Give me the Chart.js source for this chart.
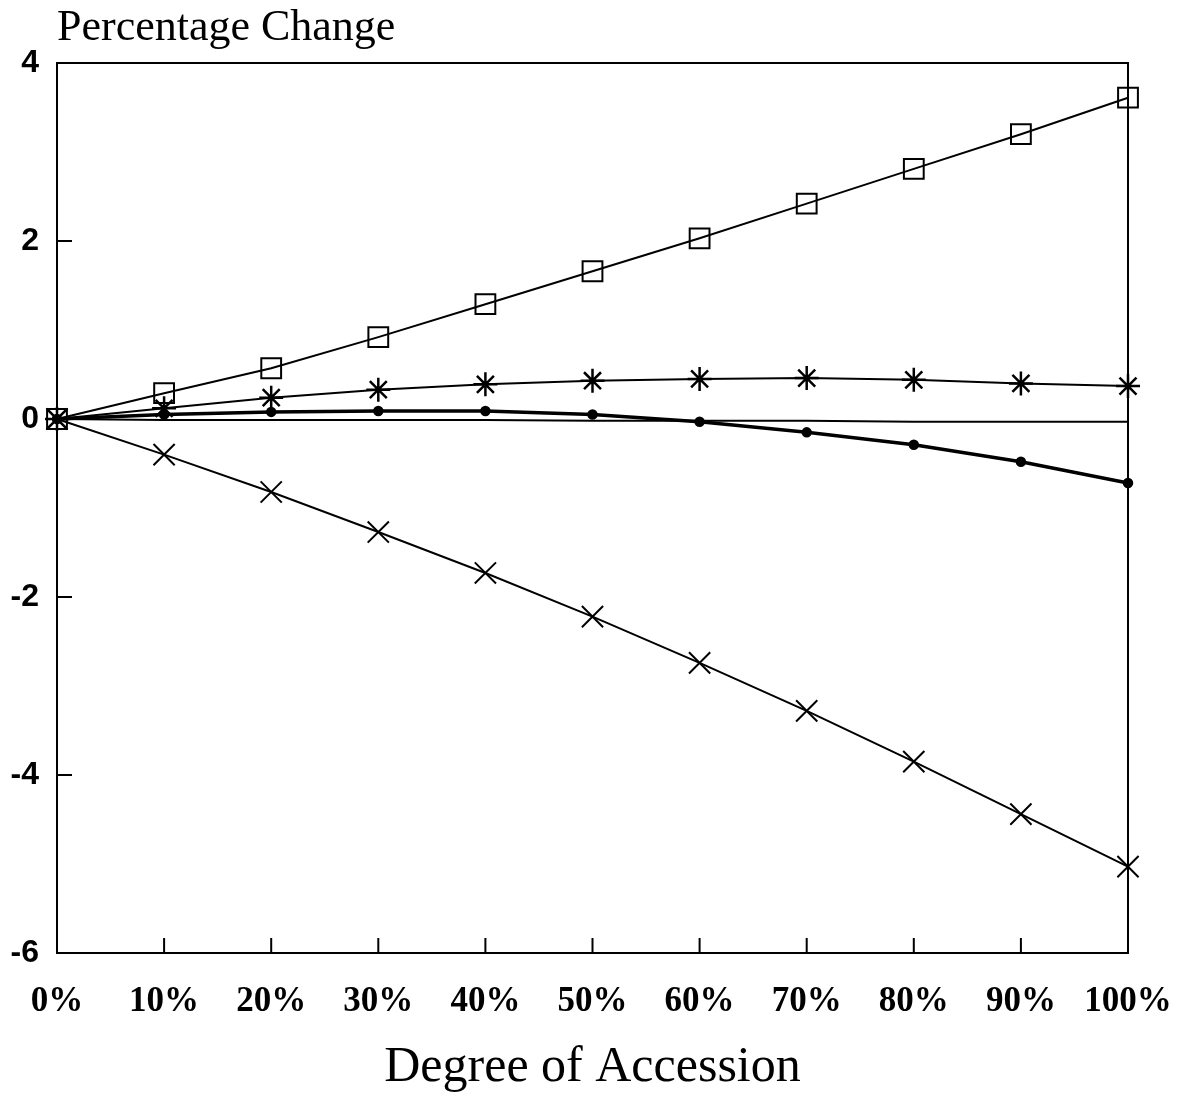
<!DOCTYPE html>
<html>
<head>
<meta charset="utf-8">
<script src="https://cdn.jsdelivr.net/npm/chart.js@4"></script>
<style>
html,body{margin:0;padding:0;background:#fff;}
#wrap{width:1181px;height:1098px;}
</style>
</head>
<body>
<div id="wrap"><canvas id="c" width="1181" height="1098"></canvas></div>
<script>
const categories = ['0%','10%','20%','30%','40%','50%','60%','70%','80%','90%','100%'];
const squareSeries   = [0, 0.29, 0.57, 0.92, 1.29, 1.66, 2.03, 2.42, 2.81, 3.20, 3.61];
const asteriskSeries = [0, 0.12, 0.24, 0.33, 0.39, 0.43, 0.45, 0.46, 0.44, 0.40, 0.37];
const dotSeries      = [0, 0.05, 0.08, 0.09, 0.09, 0.05, -0.03, -0.15, -0.29, -0.48, -0.72];
const flatSeries     = [0, -0.01, -0.01, -0.01, -0.01, -0.02, -0.02, -0.02, -0.03, -0.03, -0.03];
const crossSeries    = [0, -0.40, -0.82, -1.27, -1.73, -2.22, -2.74, -3.28, -3.85, -4.44, -5.03];
const yTicks = [4, 2, 0, -2, -4, -6];
const yTitle = 'Percentage Change';
const xTitle = 'Degree of Accession';

const frame = {
  id: 'frame',
  afterDraw(chart) {
    const ctx = chart.ctx, a = chart.chartArea;
    const xs = chart.scales.x, ys = chart.scales.y;
    ctx.save();
    ctx.strokeStyle = '#000';
    ctx.lineWidth = 2;
    ctx.strokeRect(a.left, a.top, a.right - a.left, a.bottom - a.top);
    ctx.beginPath();
    categories.forEach((c, i) => {
      const px = xs.getPixelForValue(i);
      ctx.moveTo(px, a.bottom);
      ctx.lineTo(px, a.bottom - 15);
    });
    yTicks.forEach(v => {
      const py = ys.getPixelForValue(v);
      ctx.moveTo(a.left, py);
      ctx.lineTo(a.left + 15, py);
    });
    ctx.stroke();
    ctx.fillStyle = '#000';
    ctx.font = '44px "Liberation Serif", "Times New Roman", serif';
    ctx.textAlign = 'left';
    ctx.textBaseline = 'middle';
    ctx.fillText(yTitle, a.left, 28);
    ctx.restore();
  }
};

const common = { borderColor: '#000', pointBorderColor: '#000', fill: false, tension: 0 };

new Chart(document.getElementById('c'), {
  type: 'line',
  data: {
    labels: categories,
    datasets: [
      Object.assign({ label: 'flat', data: flatSeries, borderWidth: 2, pointRadius: 0 }, common),
      Object.assign({ label: 'dot', data: dotSeries, borderWidth: 3.5, pointStyle: 'circle', pointRadius: 3.5, pointBackgroundColor: '#000' }, common),
      Object.assign({ label: 'cross', data: crossSeries, borderWidth: 2, pointStyle: 'crossRot', pointRadius: 15, pointBorderWidth: 2 }, common),
      Object.assign({ label: 'asterisk', data: asteriskSeries, borderWidth: 2, pointStyle: 'star', pointRadius: 12, pointBorderWidth: 2.5 }, common),
      Object.assign({ label: 'square', data: squareSeries, borderWidth: 2, pointStyle: 'rect', pointRadius: 14, pointBorderWidth: 2, pointBackgroundColor: 'rgba(0,0,0,0)' }, common)
    ]
  },
  options: {
    responsive: false,
    animation: false,
    layout: { padding: { top: 63, right: 53, left: 0, bottom: 0 } },
    plugins: { legend: { display: false }, tooltip: { enabled: false } },
    scales: {
      x: {
        offset: false,
        grid: { display: false, drawTicks: false },
        border: { display: false },
        ticks: { color: '#000', padding: 28, maxRotation: 0, autoSkip: false,
                 font: { family: '"Liberation Serif", "Times New Roman", serif', size: 35, weight: 'bold' } },
        title: { display: true, text: xTitle, color: '#000', padding: { top: 22, bottom: 0 },
                 font: { family: '"Liberation Serif", "Times New Roman", serif', size: 50 } },
        afterFit(s) { s.height = 145; s.paddingRight = 0; s.paddingLeft = 0; }
      },
      y: {
        min: -6, max: 4,
        grid: { display: false, drawTicks: false },
        border: { display: false },
        ticks: { stepSize: 2, color: '#000', padding: 18,
                 font: { family: '"Liberation Sans", Arial, sans-serif', size: 32, weight: 'bold' } },
        afterFit(s) { s.width = 57; s.paddingTop = 0; s.paddingBottom = 0; }
      }
    }
  },
  plugins: [frame]
});
</script>
</body>
</html>
